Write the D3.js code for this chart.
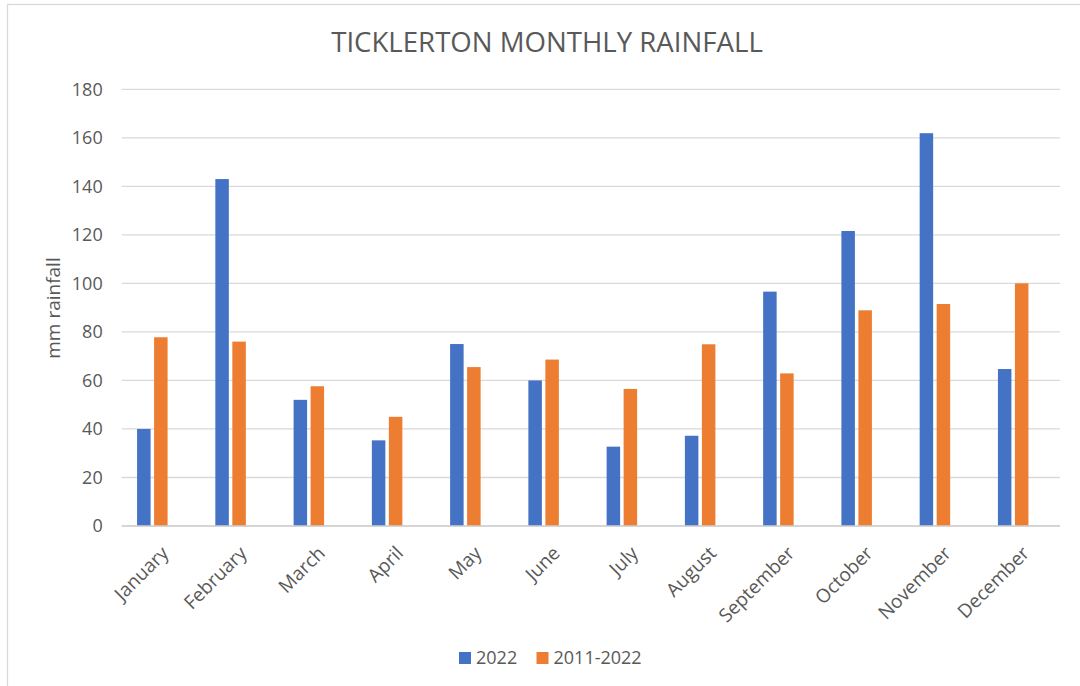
<!DOCTYPE html>
<html>
<head>
<meta charset="utf-8">
<script src="https://cdn.jsdelivr.net/npm/d3@7"></script>
<style>
  html, body { margin: 0; padding: 0; background: #fff; }
  svg { display: block; font-family: "Open Sans", "Noto Sans", sans-serif; }
</style>
</head>
<body>
<div id="chart"></div>
<script>
// Ticklerton monthly rainfall (mm)
const months = ['January', 'February', 'March', 'April', 'May', 'June',
    'July', 'August', 'September', 'October', 'November', 'December'];
const seriesNames = ['2022', '2011-2022'];
const rain2022 = [40, 143, 52, 35.3, 75, 60, 32.7, 37.2, 96.6, 121.6, 161.9, 64.7];
const rainAvg = [77.8, 76, 57.6, 45, 65.5, 68.6, 56.5, 74.9, 62.9, 88.9, 91.5, 100];
const yTicks = [0, 20, 40, 60, 80, 100, 120, 140, 160, 180];
const colors = ['#4472C4', '#ED7D31'];

const W = 1080, H = 686;
const plot = { left: 121.7, right: 1060, top: 89.3, bottom: 526 };

const svg = d3.select('#chart').append('svg')
    .attr('width', W).attr('height', H);

// cadre du graphique
svg.append('rect')
    .attr('x', 7.5).attr('y', 4.5)
    .attr('width', W + 20).attr('height', H + 20)
    .attr('fill', '#fff').attr('stroke', '#d9d9d9').attr('stroke-width', 1.3);

// Titre
svg.append('text')
    .attr('x', 547).attr('y', 52)
    .attr('text-anchor', 'middle')
    .attr('font-size', '27.6px')
    .attr('fill', '#595959')
    .text('TICKLERTON MONTHLY RAINFALL');

// Escalas
const y = d3.scaleLinear().domain([0, 180]).range([plot.bottom, plot.top]);
const x0 = d3.scaleBand().domain(months).range([113.2, 1052.3]);
const x1 = d3.scaleBand().domain(seriesNames)
    .range([(x0.bandwidth() - 30.5) / 2, (x0.bandwidth() + 30.5) / 2])
    .paddingInner(0.206);

// Grille
svg.append('g')
    .selectAll('line')
    .data(yTicks)
    .join('line')
    .attr('x1', plot.left).attr('x2', plot.right)
    .attr('y1', d => y(d)).attr('y2', d => y(d))
    .attr('stroke', '#d9d9d9').attr('stroke-width', 1.3);

// Eje Y
const yAxis = svg.append('g')
    .attr('transform', `translate(${plot.left},0)`)
    .call(d3.axisLeft(y).tickValues(yTicks).tickSize(0).tickPadding(19));
yAxis.select('.domain').remove();
yAxis.selectAll('text')
    .attr('font-size', '18px')
    .attr('fill', '#595959')
    .attr('font-family', '"Open Sans", sans-serif');

svg.append('text')
    .attr('transform', 'translate(60,308) rotate(-90)')
    .attr('text-anchor', 'middle')
    .attr('font-size', '19px')
    .attr('fill', '#595959')
    .text('mm rainfall');

// Barras
const rows = months.map((m, i) => ({ month: m, values: [rain2022[i], rainAvg[i]] }));
const groups = svg.append('g')
    .selectAll('g')
    .data(rows)
    .join('g')
    .attr('transform', d => `translate(${x0(d.month)},0)`);

groups.selectAll('rect')
    .data(d => d.values.map((v, k) => ({ key: seriesNames[k], value: v, k })))
    .join('rect')
    .attr('x', d => x1(d.key))
    .attr('width', x1.bandwidth())
    .attr('y', d => y(d.value))
    .attr('height', d => y(0) - y(d.value))
    .attr('fill', d => colors[d.k]);

// Eje X
svg.append('line')
    .attr('x1', plot.left).attr('x2', plot.right)
    .attr('y1', plot.bottom).attr('y2', plot.bottom)
    .attr('stroke', '#d0d0d0').attr('stroke-width', 1.3);

svg.append('g')
    .selectAll('text')
    .data(months)
    .join('text')
    .attr('transform', d => `translate(${x0(d) + x0.bandwidth() / 2 + 8},${plot.bottom + 19}) rotate(-45)`)
    .attr('text-anchor', 'end')
    .attr('dy', '0.7em')
    .attr('font-size', '19px')
    .attr('fill', '#595959')
    .text(d => d);

// Leyenda
const legend = svg.append('g').attr('transform', 'translate(459,652)');
const legendX = [0, 77.5];
seriesNames.forEach((name, k) => {
    const g = legend.append('g').attr('transform', `translate(${legendX[k]},0)`);
    g.append('rect').attr('width', 12).attr('height', 12).attr('fill', colors[k]);
    g.append('text')
        .attr('x', 17).attr('y', 6).attr('dy', '0.35em')
        .attr('font-size', '18px').attr('fill', '#595959')
        .text(name);
});
</script>
</body>
</html>
